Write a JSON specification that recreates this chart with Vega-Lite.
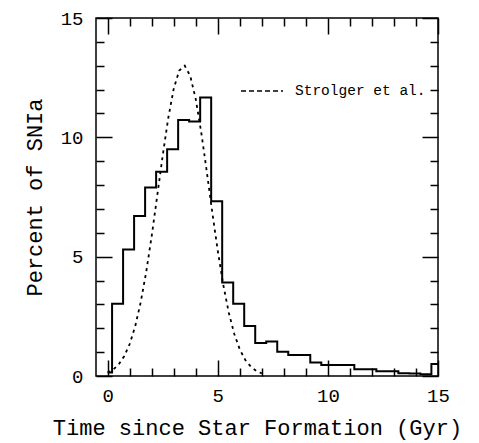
{
  "$schema": "https://vega.github.io/schema/vega-lite/v6.json",
  "width": 342,
  "height": 358,
  "autosize": {"type": "none"},
  "padding": {"left": 96, "top": 18, "right": 41, "bottom": 67},
  "background": "white",
  "config": {
    "view": {"stroke": "black", "strokeWidth": 1.5},
    "axis": {
      "domain": false,
      "grid": false,
      "tickColor": "black",
      "tickWidth": 1.5,
      "labelColor": "black",
      "titleColor": "black",
      "labelFont": "Liberation Mono",
      "titleFont": "Liberation Mono",
      "labelFontSize": 19,
      "titleFontSize": 22,
      "titleFontWeight": "normal",
      "labelOverlap": false,
      "labelFlush": false
    }
  },
  "datasets": {
    "hist": [
      {"t": 0.0, "pct": 0.15},
      {"t": 0.2, "pct": 3.03},
      {"t": 0.7, "pct": 5.3},
      {"t": 1.2, "pct": 6.7},
      {"t": 1.7, "pct": 7.9},
      {"t": 2.2, "pct": 8.56},
      {"t": 2.7, "pct": 9.5},
      {"t": 3.2, "pct": 10.73},
      {"t": 3.7, "pct": 10.66},
      {"t": 4.2, "pct": 11.67},
      {"t": 4.7, "pct": 7.32},
      {"t": 5.2, "pct": 3.92},
      {"t": 5.7, "pct": 3.03},
      {"t": 6.2, "pct": 2.1},
      {"t": 6.7, "pct": 1.38},
      {"t": 7.2, "pct": 1.45},
      {"t": 7.7, "pct": 1.02},
      {"t": 8.2, "pct": 0.88},
      {"t": 8.7, "pct": 0.88},
      {"t": 9.2, "pct": 0.57},
      {"t": 9.7, "pct": 0.46},
      {"t": 10.2, "pct": 0.46},
      {"t": 10.7, "pct": 0.46},
      {"t": 11.2, "pct": 0.28},
      {"t": 11.7, "pct": 0.28},
      {"t": 12.2, "pct": 0.2},
      {"t": 12.7, "pct": 0.2},
      {"t": 13.2, "pct": 0.12},
      {"t": 13.7, "pct": 0.1},
      {"t": 14.2, "pct": 0.07},
      {"t": 14.7, "pct": 0.5},
      {"t": 15.0, "pct": 0.5}
    ],
    "curve": [
      {"t": 0.0, "pct": 0.14},
      {"t": 0.25, "pct": 0.27},
      {"t": 0.5, "pct": 0.48},
      {"t": 0.75, "pct": 0.83},
      {"t": 1.0, "pct": 1.34},
      {"t": 1.25, "pct": 2.08},
      {"t": 1.5, "pct": 3.09},
      {"t": 1.75, "pct": 4.36},
      {"t": 2.0, "pct": 5.87},
      {"t": 2.25, "pct": 7.55},
      {"t": 2.5, "pct": 9.24},
      {"t": 2.75, "pct": 10.8},
      {"t": 3.0, "pct": 12.04},
      {"t": 3.25, "pct": 12.8},
      {"t": 3.5, "pct": 13.0},
      {"t": 3.75, "pct": 12.57},
      {"t": 4.0, "pct": 11.6},
      {"t": 4.25, "pct": 10.2},
      {"t": 4.5, "pct": 8.57},
      {"t": 4.75, "pct": 6.86},
      {"t": 5.0, "pct": 5.24},
      {"t": 5.25, "pct": 3.82},
      {"t": 5.5, "pct": 2.65},
      {"t": 5.75, "pct": 1.76},
      {"t": 6.0, "pct": 1.11},
      {"t": 6.25, "pct": 0.67},
      {"t": 6.5, "pct": 0.39},
      {"t": 6.75, "pct": 0.21},
      {"t": 7.0, "pct": 0.11}
    ]
  },
  "resolve": {"axis": {"x": "independent", "y": "independent"}},
  "layer": [
    {
      "data": {"name": "hist"},
      "mark": {"type": "line", "interpolate": "step-after", "color": "black", "strokeWidth": 2},
      "encoding": {
        "x": {
          "field": "t", "type": "quantitative",
          "scale": {"domain": [-0.53, 15], "nice": false, "zero": false},
          "axis": {
            "orient": "bottom",
            "values": [0,1,2,3,4,5,6,7,8,9,10,11,12,13,14,15],
            "tickSize": {"condition": {"test": "datum.value % 5 === 0", "value": -16}, "value": -8},
            "labelExpr": "datum.value % 5 === 0 ? datum.label : ''",
            "labelPadding": 26,
            "title": "Time since Star Formation (Gyr)",
            "titleX": 161,
            "titlePadding": 4
          }
        },
        "y": {
          "field": "pct", "type": "quantitative",
          "scale": {"domain": [0, 15], "nice": false, "zero": false},
          "axis": {
            "orient": "left",
            "values": [0,1,2,3,4,5,6,7,8,9,10,11,12,13,14,15],
            "tickSize": {"condition": {"test": "datum.value % 5 === 0", "value": -16}, "value": -8},
            "labelExpr": "datum.value % 5 === 0 ? datum.label : ''",
            "labelPadding": 29,
            "title": "Percent of SNIa",
            "titlePadding": 14
          }
        }
      }
    },
    {
      "data": {"name": "curve"},
      "mark": {"type": "line", "strokeWidth": 1.8, "strokeDash": [3, 4]},
      "encoding": {
        "x": {
          "field": "t", "type": "quantitative",
          "axis": {
            "orient": "top",
            "values": [0,1,2,3,4,5,6,7,8,9,10,11,12,13,14,15],
            "tickSize": {"condition": {"test": "datum.value % 5 === 0", "value": -16}, "value": -8},
            "labels": false,
            "title": null
          }
        },
        "y": {
          "field": "pct", "type": "quantitative",
          "axis": {
            "orient": "right",
            "values": [0,1,2,3,4,5,6,7,8,9,10,11,12,13,14,15],
            "tickSize": {"condition": {"test": "datum.value % 5 === 0", "value": -16}, "value": -8},
            "labels": false,
            "title": null
          }
        },
        "color": {
          "datum": "Strolger et al.", "type": "nominal",
          "scale": {"range": ["black"]},
          "legend": {
            "title": null,
            "orient": "none",
            "legendX": 144,
            "legendY": 51,
            "symbolType": "stroke",
            "symbolSize": 1764,
            "symbolStrokeWidth": 1.5,
            "symbolDash": [5, 3],
            "labelFont": "Liberation Mono",
            "labelFontSize": 14.5,
            "labelColor": "black",
            "labelOffset": 11,
            "padding": 0
          }
        }
      }
    }
  ]
}
